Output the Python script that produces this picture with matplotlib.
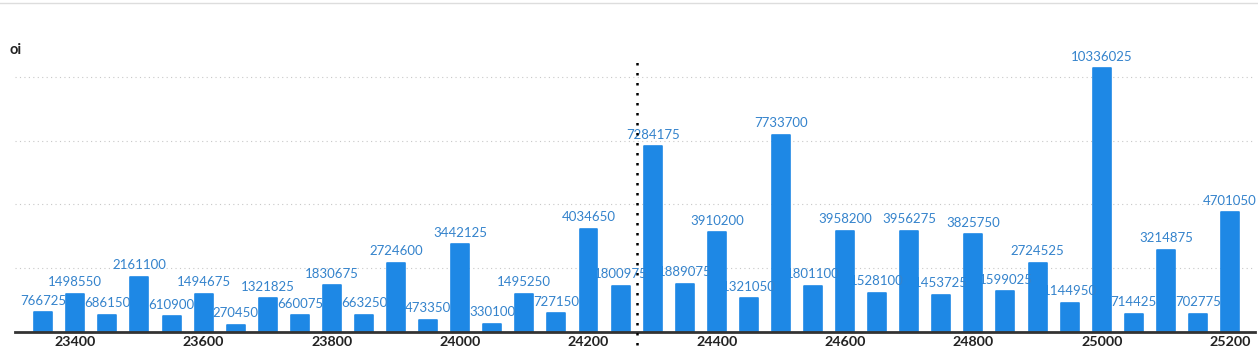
import matplotlib
matplotlib.use("Agg")
import matplotlib.pyplot as plt
from matplotlib.lines import Line2D

strikes = [23350, 23400, 23450, 23500, 23550, 23600, 23650, 23700, 23750, 23800,
           23850, 23900, 23950, 24000, 24050, 24100, 24150, 24200, 24250, 24300,
           24350, 24400, 24450, 24500, 24550, 24600, 24650, 24700, 24750, 24800,
           24850, 24900, 24950, 25000, 25050, 25100, 25150, 25200]
oi = [766725, 1498550, 686150, 2161100, 610900, 1494675, 270450, 1321825, 660075, 1830675,
      663250, 2724600, 473350, 3442125, 330100, 1495250, 727150, 4034650, 1800975, 7284175,
      1889075, 3910200, 1321050, 7733700, 1801100, 3958200, 1528100, 3956275, 1453725, 3825750,
      1599025, 2724525, 1144950, 10336025, 714425, 3214875, 702775, 4701050]
xticks = [23400, 23600, 23800, 24000, 24200, 24400, 24600, 24800, 25000, 25200]
spot = 24275
y_label = "oi"

W, H = 1258, 353
fig = plt.figure(figsize=(W / 100, H / 100), dpi=100)
ax = fig.add_axes([15 / W, 21 / H, 1240 / W, 292 / H])

bar_color = "#1E88E5"
bars = ax.bar(strikes, oi, width=28, color=bar_color, edgecolor=bar_color, linewidth=1.2,
              joinstyle="round")
n = len(strikes)
for i, (patch, s, v) in enumerate(zip(bars.patches, strikes, oi)):
    z = 2 + (n - i) * 0.02
    patch.set_zorder(z)
    ax.text(s, v + 220000, f"{v}", ha="center", va="bottom", fontsize=9.5,
            family="Lato", color="#3483CC", zorder=z + 0.01)

ax.set_xlim(23306, 25239)
ax.set_ylim(0, 11.45e6)
ax.set_yticks([2.5e6, 5e6, 7.5e6, 10e6])
ax.set_yticklabels([])
ax.tick_params(axis="y", length=0)
ax.grid(axis="y", linestyle=(0, (1, 3)), color="#c8c8c8", linewidth=0.8, zorder=0)
ax.set_axisbelow(True)
ax.set_xticks(xticks)
ax.set_xticklabels([str(t) for t in xticks], fontsize=10.3, fontweight="bold",
                   family="Lato", color="#222222")
ax.tick_params(axis="x", length=0, pad=3)
for side in ["top", "right", "left"]:
    ax.spines[side].set_visible(False)
ax.spines["bottom"].set_color("#333333")
ax.spines["bottom"].set_linewidth(2)
ax.spines["bottom"].set_zorder(4)

ax.axvline(spot, ymin=-0.045, ymax=0.949, color="black", linestyle=(0, (1, 3)),
           linewidth=1.8, clip_on=False, zorder=5)

fig.text(10 / W, 1 - 50 / H, y_label, fontsize=10.5, fontweight="bold",
         family="Lato", color="#222222", va="center", ha="left")
fig.add_artist(Line2D([0, 1], [1 - 3 / H, 1 - 3 / H], transform=fig.transFigure,
                      color="#dddddd", linewidth=1))

fig.savefig("out.png", dpi=100)
